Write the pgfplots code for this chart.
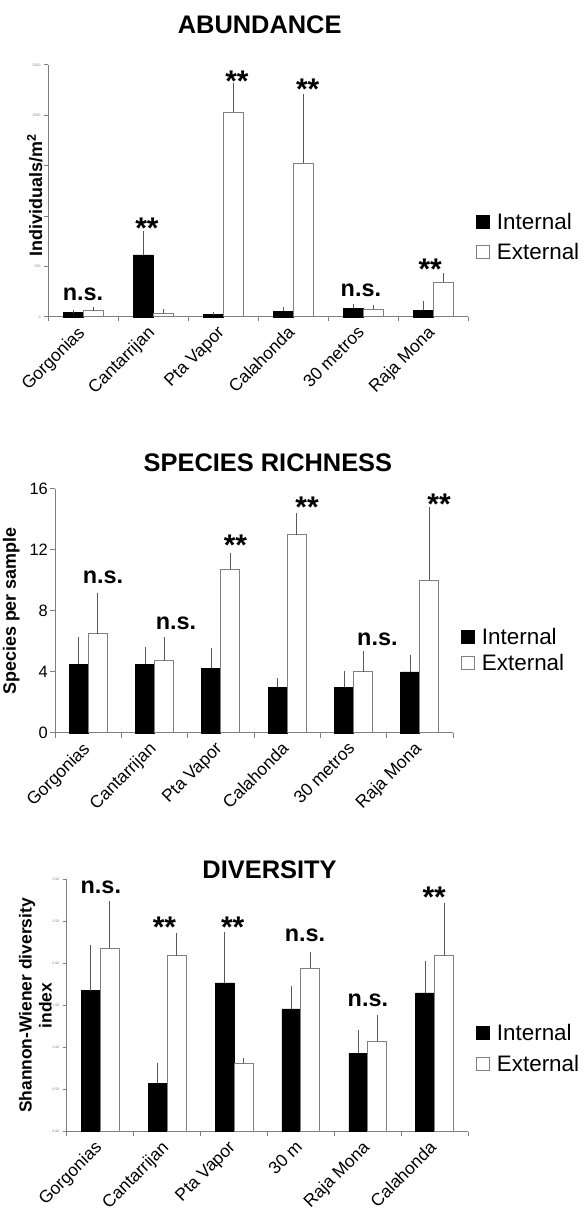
\documentclass[border=0pt]{standalone}
\usepackage{fontspec}
\setmainfont{Liberation Sans}
\usepackage{pgfplots}
\pgfplotsset{compat=1.18}
\definecolor{axgray}{gray}{0.5}
\definecolor{errgray}{gray}{0.35}
\pgfplotsset{
  panel/.style={
    scale only axis,
    axis lines=left,
    axis line style={-, axgray, line width=1bp},
    xmin=-0.5, xmax=5.5, ymin=0,
    ybar=0pt,
    clip=false,
    tick align=outside,
    xtick={-0.5,0.5,1.5,2.5,3.5,4.5,5.5},
    xticklabels={{},{},{},{},{},{},{}},
    extra x ticks={0,1,2,3,4,5},
    extra x tick style={major tick length=0pt, xticklabel shift=5bp,
      xticklabel style={xshift=-6.5bp, rotate=45, anchor=north east, font=\fontsize{17.5}{20}\selectfont, inner sep=2bp}},
    tick style={axgray, line width=1bp},
    /pgf/number format/assume math mode=true,
    /pgf/number format/1000 sep={},
    scaled y ticks=false,
    legend image code/.code={\draw[##1] (0bp,-6.5bp) rectangle (13bp,6.5bp);},
    legend style={draw=none, fill=none, anchor=north west, inner sep=0pt, outer sep=0pt,
      font=\fontsize{22.5}{24}\selectfont, cells={anchor=west}, column sep=5bp},
  },
  intbar/.style={fill=black, draw=black, line width=0.8bp,
    error bars/y dir=plus, error bars/y explicit,
    error bars/error bar style={errgray, line width=0.8bp},
    error bars/error mark options={errgray, mark size=1.5bp, line width=0.8bp}},
  extbar/.style={fill=white, draw=axgray, line width=1bp,
    error bars/y dir=plus, error bars/y explicit,
    error bars/error bar style={errgray, line width=0.8bp},
    error bars/error mark options={errgray, mark size=1.5bp, line width=0.8bp}},
}
\tikzset{
  ns/.style={font=\bfseries\fontsize{23.5}{24}\selectfont, anchor=center},
  ast/.style={font=\bfseries\fontsize{30}{30}\selectfont, anchor=center, yshift=-5.5bp},
}
\begin{document}
\begin{tikzpicture}[x=1bp,y=1bp]
\useasboundingbox (0,0) rectangle (587,1214);

% ---------------- ABUNDANCE ----------------
\begin{axis}[panel,
  at={(48bp,897bp)}, anchor=south west, width=420bp, height=252bp,
  ymax=2500, ytick={0,500,1000,1500,2000,2500},
  major tick length=4bp,
  bar width=20bp,
  yticklabel style={font=\fontsize{3.5}{4}\selectfont, text=axgray},
  extra x tick labels={Gorgonias,Cantarrijan,Pta Vapor,Calahonda,30 metros,Raja Mona},
  title={ABUNDANCE},
  every axis title/.style={at={(axis description cs:0.504,1.123)}, anchor=base, font=\bfseries\fontsize{25.5}{28}\selectfont},
  ylabel={Individuals/m\textsuperscript{2}},
  every axis y label/.style={at={(axis description cs:-0.014,0.484)}, rotate=90, anchor=base, font=\bfseries\fontsize{18}{20}\selectfont},
  legend style={at={(axis description cs:1.019,0.42)}, row sep=8.5bp},
]
\addplot[intbar] coordinates {(0,43) +- (0,14) (1,615) +- (0,222) (2,23) +- (0,13) (3,56) +- (0,30) (4,86) +- (0,23) (5,66) +- (0,80)};
\addlegendentry{Internal}
\addplot[extbar] coordinates {(0,60) +- (0,20) (1,36) +- (0,33) (2,2030) +- (0,278) (3,1524) +- (0,678) (4,79) +- (0,24) (5,347) +- (0,70)};
\addlegendentry{External}
\node[ns] at (axis cs:0.0,223) {n.s.};
\node[ast] at (axis cs:0.914,937) {**};
\node[ast] at (axis cs:2.2,2398) {**};
\node[ast] at (axis cs:3.21,2313) {**};
\node[ns] at (axis cs:3.97,268) {n.s.};
\node[ast] at (axis cs:4.96,533) {**};
\end{axis}

% ---------------- SPECIES RICHNESS ----------------
\begin{axis}[panel,
  at={(55bp,481bp)}, anchor=south west, width=398bp, height=244bp,
  ymax=16, ytick={0,4,8,12,16},
  major tick length=5bp,
  bar width=19bp,
  yticklabel style={font=\fontsize{16.5}{18}\selectfont, inner sep=2bp},
  extra x tick labels={Gorgonias,Cantarrijan,Pta Vapor,Calahonda,30 metros,Raja Mona},
  title={SPECIES RICHNESS},
  every axis title/.style={at={(axis description cs:0.535,1.071)}, anchor=base, font=\bfseries\fontsize{25.5}{28}\selectfont},
  ylabel={Species per sample},
  every axis y label/.style={at={(axis description cs:-0.098,0.5)}, rotate=90, anchor=base, font=\bfseries\fontsize{18}{20}\selectfont},
  legend style={at={(axis description cs:1.02,0.439)}, row sep=5bp},
]
\addplot[intbar] coordinates {(0,4.5) +- (0,1.7) (1,4.5) +- (0,1.05) (2,4.25) +- (0,1.25) (3,3.0) +- (0,0.5) (4,3.0) +- (0,0.95) (5,4.0) +- (0,1.0)};
\addlegendentry{Internal}
\addplot[extbar] coordinates {(0,6.5) +- (0,2.6) (1,4.75) +- (0,1.45) (2,10.75) +- (0,0.95) (3,13.0) +- (0,1.3) (4,4.0) +- (0,1.3) (5,10.0) +- (0,4.7)};
\addlegendentry{External}
\node[ns] at (axis cs:0.224,10.18) {n.s.};
\node[ns] at (axis cs:1.325,7.21) {n.s.};
\node[ast] at (axis cs:2.22,12.66) {**};
\node[ast] at (axis cs:3.30,15.17) {**};
\node[ns] at (axis cs:4.36,6.16) {n.s.};
\node[ast] at (axis cs:5.29,15.34) {**};
\end{axis}

% ---------------- DIVERSITY ----------------
\begin{axis}[panel,
  at={(66.7bp,82.3bp)}, anchor=south west, width=401.6bp, height=252.4bp,
  ymax=3, ytick={0,0.5,1,1.5,2,2.5,3},
  major tick length=4bp,
  bar width=19bp,
  yticklabel style={font=\fontsize{3.5}{4}\selectfont, text=axgray, /pgf/number format/.cd, fixed, fixed zerofill, precision=2},
  extra x tick labels={Gorgonias,Cantarrijan,Pta Vapor,30 m,Raja Mona,Calahonda},
  title={DIVERSITY},
  every axis title/.style={at={(axis description cs:0.505,1.004)}, anchor=base, font=\bfseries\fontsize{25.5}{28}\selectfont},
  ylabel={Shannon-Wiener diversity\\index},
  every axis y label/.style={at={(axis description cs:-0.078,0.5)}, rotate=90, anchor=center, align=center, font=\bfseries\fontsize{17.5}{20}\selectfont},
  legend style={at={(axis description cs:1.019,0.435)}, row sep=10bp},
]
\addplot[intbar] coordinates {(0,1.677) +- (0,0.53) (1,0.575) +- (0,0.225) (2,1.768) +- (0,0.59) (3,1.459) +- (0,0.26) (4,0.932) +- (0,0.26) (5,1.649) +- (0,0.36)};
\addlegendentry{Internal}
\addplot[extbar] coordinates {(0,2.18) +- (0,0.54) (1,2.09) +- (0,0.25) (2,0.813) +- (0,0.043) (3,1.943) +- (0,0.18) (4,1.078) +- (0,0.29) (5,2.09) +- (0,0.61)};
\addlegendentry{External}
\node[ns] at (axis cs:0.01,2.90) {n.s.};
\node[ast] at (axis cs:0.96,2.49) {**};
\node[ast] at (axis cs:1.98,2.49) {**};
\node[ns] at (axis cs:3.06,2.34) {n.s.};
\node[ns] at (axis cs:4.0,1.566) {n.s.};
\node[ast] at (axis cs:4.99,2.85) {**};
\end{axis}
\end{tikzpicture}
\end{document}
